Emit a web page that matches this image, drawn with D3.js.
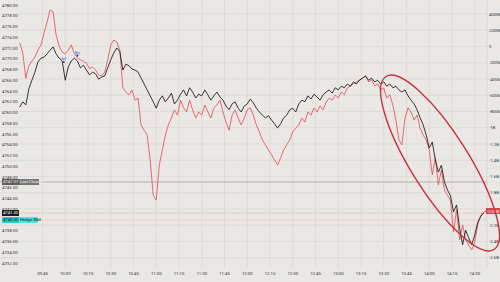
<!DOCTYPE html>
<html><head><meta charset="utf-8">
<script src="https://cdn.jsdelivr.net/npm/d3@7/dist/d3.min.js"></script>
<style>html,body{margin:0;padding:0;background:#eae8e4;}svg{display:block;}</style>
</head><body>
<script>
// minutes after 09:30, every 2 minutes
const priceTimes = d3.range(0, 307, 2);
const flowTimes = d3.range(0, 309, 2);
const price = [4761.0,4762.0,4761.4,4764.4,4766.0,4767.5,4769.4,4770.1,4770.3,4770.9,4771.6,4772.2,4770.9,4770.1,4769.6,4766.0,4768.5,4769.6,4770.1,4769.6,
4768.3,4768.8,4767.9,4767.0,4767.5,4767.2,4766.2,4766.6,4766.8,4768.3,4769.8,4771.1,4772.0,4771.3,4767.9,4769.0,4768.7,4768.1,4767.9,4767.5,
4766.4,4765.3,4764.2,4763.1,4762.0,4760.8,4762.3,4763.1,4762.0,4762.7,4763.6,4761.6,4762.3,4763.4,4764.2,4763.1,4764.6,4763.8,4762.7,4763.4,
4763.1,4764.2,4763.3,4762.3,4763.1,4763.8,4762.9,4762.3,4761.2,4760.5,4761.6,4762.0,4760.8,4760.1,4761.2,4761.6,4762.5,4761.8,4760.8,4760.1,
4759.5,4759.0,4759.4,4758.6,4757.9,4757.1,4757.9,4759.0,4759.5,4760.5,4760.8,4760.1,4761.6,4762.3,4762.0,4763.1,4762.5,4763.4,4762.9,4762.3,
4763.3,4763.8,4764.2,4763.6,4764.6,4764.2,4764.9,4764.6,4765.3,4764.9,4765.7,4765.3,4766.0,4766.4,4766.8,4766.0,4766.4,4765.7,4766.0,4765.3,
4765.7,4764.9,4765.3,4764.6,4764.9,4764.2,4763.8,4764.2,4763.1,4762.3,4761.6,4760.5,4759.0,4757.7,4755.8,4753.4,4754.5,4751.2,4748.9,4750.2,
4747.1,4745.6,4744.5,4741.5,4742.8,4738.5,4735.4,4738.1,4736.7,4735.4,4737.2,4739.6,4740.7,4741.3];
// cumulative flow, millions
const flow = [45,-80,-390,-240,-180,-130,-45,20,165,300,450,425,140,5,-70,-90,-45,20,-90,-140,
-165,-180,-205,-275,-250,-290,-350,-365,-315,-165,20,80,55,-45,-510,-560,-595,-535,-660,-635,
-965,-1030,-1090,-1395,-1830,-1890,-1460,-1275,-1090,-965,-880,-780,-845,-660,-755,-805,-660,-780,-880,-805,
-845,-720,-805,-880,-755,-720,-660,-805,-930,-1030,-845,-780,-880,-965,-880,-780,-755,-845,-965,-1050,
-1150,-1210,-1275,-1335,-1395,-1460,-1370,-1275,-1210,-1150,-1050,-1005,-965,-880,-930,-805,-845,-755,-805,-730,
-780,-685,-635,-660,-595,-635,-560,-595,-510,-485,-460,-435,-410,-390,-365,-435,-410,-485,-460,-535,
-510,-635,-595,-720,-905,-1150,-1210,-880,-755,-805,-905,-845,-1005,-1090,-1150,-1275,-1580,-1370,-1705,-1520,
-1765,-1830,-1890,-2285,-2010,-2380,-2195,-2380,-2445,-2505,-2405,-2195,-2075,-2035,-2025];
const xTickMinutes = [15,30,45,60,75,90,105,120,135,150,165,180,195,210,225,240,255,270,285,300];
const xTickLabels = ["09:45","10:00","10:15","10:30","10:45","11:00","11:15","11:30","11:45","12:00","12:15","12:30","12:45","13:00","13:15","13:30","13:45","14:00","14:15","14:30"];
const leftTicks = d3.range(4780, 4731, -2);
const rightTicks = [400,200,0,-200,-400,-600,-800,-1000,-1200,-1400,-1600,-1800,-2000,-2200,-2400,-2600];
const rightTickLabels = ["400M","200M","0","-200M","-400M","-600M","-800M","-1B","-1.2B","-1.4B","-1.6B","-1.8B","-2B","-2.2B","-2.4B","-2.6B"];
const lastClosing = 4747.07, lastPrice = 4741.3, hedgeWall = 4740.0, lastFlow = -2025;

const W = 500, H = 282;
const svg = d3.select("body").append("svg").attr("width", W).attr("height", H);
svg.append("rect").attr("width", W).attr("height", H).attr("fill", "#eae8e4");

const x = d3.scaleLinear().domain([0, 300]).range([19.75, 474.75]);
const yL = d3.scaleLinear().domain([4732, 4780]).range([263, 5]);
const yR = d3.scaleLinear().domain([-2600, 400]).range([257.75, 14]);

const font = "Roboto, 'DejaVu Sans', sans-serif";
// grid
const g = svg.append("g");
g.selectAll("line.v").data(xTickMinutes).join("line")
  .attr("x1", d => x(d)).attr("x2", d => x(d)).attr("y1", 0).attr("y2", 268)
  .attr("stroke", "#d7d4cf").attr("stroke-width", 0.6);
g.selectAll("line.h").data(rightTicks).join("line")
  .attr("x1", 0).attr("x2", 487).attr("y1", d => yR(d)).attr("y2", d => yR(d))
  .attr("stroke", "#d7d4cf").attr("stroke-width", 0.6);
g.append("line").attr("x1", 487).attr("x2", 487).attr("y1", 0).attr("y2", 268)
  .attr("stroke", "#d2cfca").attr("stroke-width", 0.6);

// reference lines
svg.append("line").attr("x1", 0).attr("x2", 487).attr("y1", yL(lastClosing)).attr("y2", yL(lastClosing))
  .attr("stroke", "#8a8a8a").attr("stroke-width", 0.6);
svg.append("line").attr("x1", 0).attr("x2", 487).attr("y1", yL(lastPrice)).attr("y2", yL(lastPrice))
  .attr("stroke", "#e8b9b9").attr("stroke-width", 0.7);
svg.append("line").attr("x1", 0).attr("x2", 487).attr("y1", yL(hedgeWall)).attr("y2", yL(hedgeWall))
  .attr("stroke", "#eec4c4").attr("stroke-width", 0.7);

// axis labels
const fmt = d3.format(".2f");
svg.append("g").selectAll("text").data(leftTicks).join("text")
  .attr("x", 2).attr("y", d => yL(d)).attr("dy", "0.35em")
  .attr("font-family", font).attr("font-size", 4.3).attr("fill", "#333")
  .text(d => fmt(d));
// right tick labels (the one hidden behind the current-value tag is skipped)
const rightVisible = rightTicks.map((d, i) => ({v: d, s: rightTickLabels[i]}))
  .filter(d => Math.abs(yR(d.v) - yR(lastFlow)) > 5);
svg.append("g").selectAll("text").data(rightVisible).join("text")
  .attr("x", 489).attr("y", d => yR(d.v)).attr("dy", "0.35em")
  .attr("font-family", font).attr("font-size", 4.3).attr("fill", "#333")
  .text(d => d.s);
svg.append("g").selectAll("text").data(xTickMinutes).join("text")
  .attr("x", d => x(d)).attr("y", 275).attr("text-anchor", "middle")
  .attr("font-family", font).attr("font-size", 4.3).attr("fill", "#333")
  .text((d, i) => xTickLabels[i]);

// series
const lineP = d3.line().x((d, i) => x(priceTimes[i])).y(d => yL(d));
const lineF = d3.line().x((d, i) => x(flowTimes[i])).y(d => yR(d));
svg.append("path").attr("d", lineF(flow)).attr("fill", "none").attr("stroke", "#e2535a").attr("stroke-width", 0.85).attr("stroke-linejoin", "round");
svg.append("path").attr("d", lineP(price)).attr("fill", "none").attr("stroke", "#151515").attr("stroke-width", 0.85).attr("stroke-linejoin", "round");

// trade markers
const markers = [{t: 29, v: 4769.4, s: "Sell"}, {t: 38, v: 4770.6, s: "Buy"}];
markers.forEach(m => {
  svg.append("circle").attr("cx", x(m.t)).attr("cy", yL(m.v)).attr("r", 1.1).attr("fill", "#2a3fd6");
  svg.append("text").attr("x", x(m.t)).attr("y", yL(m.v) - 2).attr("text-anchor", "middle")
    .attr("font-family", font).attr("font-size", 3).attr("fill", "#2a3fd6").text(m.s);
});

// boxes on left axis
function tag(yv, parts) {
  let cx = 2;
  parts.forEach(p => {
    svg.append("rect").attr("x", cx).attr("y", yv - 3).attr("width", p.w).attr("height", 6).attr("fill", p.bg);
    svg.append("text").attr("x", cx + 1).attr("y", yv).attr("dy", "0.35em")
      .attr("font-family", font).attr("font-size", 4.2).attr("fill", p.fg).text(p.t);
    cx += p.w;
  });
}
tag(yL(lastClosing), [{t: fmt(lastClosing), w: 17, bg: "#5d5d5d", fg: "#eee"}, {t: "Last Closing", w: 20, bg: "#777", fg: "#eee"}]);
tag(yL(lastPrice), [{t: fmt(lastPrice), w: 17, bg: "#1d1d1d", fg: "#fff"}]);
tag(yL(hedgeWall), [{t: fmt(hedgeWall), w: 17, bg: "#2cc9c6", fg: "#111"}, {t: "Hedge Wall", w: 19, bg: "#4de3df", fg: "#111"}]);

// right box
svg.append("rect").attr("x", 486).attr("y", yR(lastFlow) - 3).attr("width", 14).attr("height", 6).attr("fill", "#d9434b");
svg.append("text").attr("x", 487).attr("y", yR(lastFlow)).attr("dy", "0.35em")
  .attr("font-family", font).attr("font-size", 4.2).attr("fill", "#fff").text("-2.03B");

// annotation ellipse
svg.append("ellipse").attr("cx", 440).attr("cy", 163).attr("rx", 102).attr("ry", 29)
  .attr("transform", "rotate(58 440 163)")
  .attr("fill", "none").attr("stroke", "#c8323a").attr("stroke-width", 1.4);
</script>
</body></html>
